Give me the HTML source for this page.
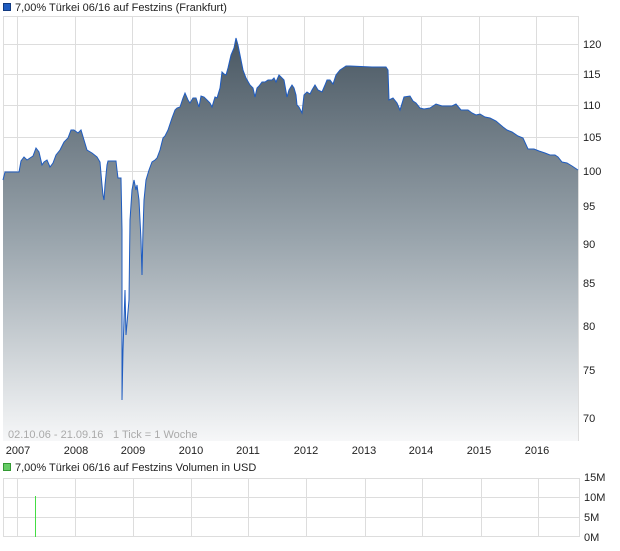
<!DOCTYPE html>
<html><head><meta charset="utf-8"><style>
body{margin:0;background:#fff;width:620px;height:546px;overflow:hidden;font-family:"Liberation Sans",sans-serif;}
</style></head><body>
<svg width="620" height="546" xmlns="http://www.w3.org/2000/svg" font-family="Liberation Sans, sans-serif" font-size="11">
<defs>
<linearGradient id="g" gradientUnits="userSpaceOnUse" x1="0" y1="40" x2="0" y2="441">
<stop offset="0" stop-color="#4a5863"/>
<stop offset="0.5" stop-color="#9aa5ad"/>
<stop offset="1" stop-color="#f6f7f8"/>
</linearGradient>
</defs>
<rect x="3.5" y="3.5" width="7" height="7" fill="#1f5cc0" stroke="#123a80"/>
<text x="15" y="11" fill="#222">7,00% Türkei 06/16 auf Festzins (Frankfurt)</text>
<rect x="3.5" y="16.5" width="575" height="424" fill="#fff" stroke="#ddd"/>
<g stroke="#ddd" stroke-width="1">
<line x1="3" y1="44.5" x2="578" y2="44.5"/><line x1="3" y1="74.5" x2="578" y2="74.5"/>
<line x1="3" y1="105.5" x2="578" y2="105.5"/><line x1="3" y1="137.5" x2="578" y2="137.5"/>
<line x1="3" y1="171.5" x2="578" y2="171.5"/>
<line x1="17.5" y1="16" x2="17.5" y2="441"/><line x1="75.5" y1="16" x2="75.5" y2="441"/>
<line x1="132.5" y1="16" x2="132.5" y2="441"/><line x1="190.5" y1="16" x2="190.5" y2="441"/>
<line x1="247.5" y1="16" x2="247.5" y2="441"/><line x1="304.5" y1="16" x2="304.5" y2="441"/>
<line x1="363.5" y1="16" x2="363.5" y2="441"/><line x1="421.5" y1="16" x2="421.5" y2="441"/>
<line x1="479.5" y1="16" x2="479.5" y2="441"/><line x1="536.5" y1="16" x2="536.5" y2="441"/>
</g>
<path id="p" d="M3,180 L5,172 L19,172 L21,161 L24,157 L27,160 L30,158 L33,156 L36,148 L39,152 L42,165 L44,162 L47,160 L50,167 L53,163 L56,155 L60,150 L64,142 L68,138 L71,130 L74,130 L78,133 L81,130 L84,140 L87,150 L92,153 L97,157 L100,162 L102,185 L103,195 L104,200 L105,185 L107,165 L108,161 L116,161 L117,170 L118,178 L121,178 L122,230 L122,400 L123,350 L125,290 L126,335 L129,300 L130,220 L132,190 L134,180 L136,190 L137,185 L139,200 L141,240 L142,275 L143,230 L144,200 L146,180 L149,170 L152,162 L155,160 L157,158 L160,150 L163,138 L165,136 L168,130 L172,118 L175,110 L177,108 L180,107 L183,98 L185,93 L188,100 L190,103 L193,98 L196,98 L199,107 L201,96 L204,97 L207,100 L210,103 L212,107 L215,97 L217,98 L220,88 L222,72 L224,74 L226,75 L228,68 L231,55 L234,48 L236,38 L238,45 L240,55 L243,70 L246,78 L250,85 L253,88 L255,97 L257,88 L259,86 L262,82 L265,82 L268,80 L272,80 L274,78 L276,82 L279,75 L282,78 L284,80 L287,97 L289,90 L292,85 L294,88 L296,95 L297,105 L299,107 L302,113 L304,95 L307,92 L310,94 L312,90 L315,85 L318,90 L322,92 L325,85 L327,80 L330,80 L333,84 L336,75 L340,70 L343,68 L346,66 L350,66 L372,67 L386,67 L388,70 L389,100 L393,98 L397,103 L400,110 L404,97 L410,96 L413,101 L416,103 L420,108 L424,109 L430,108 L436,104 L442,106 L452,106 L456,104 L461,110 L468,110 L472,113 L476,115 L480,114 L485,117 L490,118 L496,121 L503,127 L507,130 L512,132 L518,136 L523,138 L528,149 L534,149 L539,151 L545,153 L550,155 L555,155 L558,157 L562,162 L567,163 L572,166 L578,170" fill="none"/>
<path d="M3,180 L5,172 L19,172 L21,161 L24,157 L27,160 L30,158 L33,156 L36,148 L39,152 L42,165 L44,162 L47,160 L50,167 L53,163 L56,155 L60,150 L64,142 L68,138 L71,130 L74,130 L78,133 L81,130 L84,140 L87,150 L92,153 L97,157 L100,162 L102,185 L103,195 L104,200 L105,185 L107,165 L108,161 L116,161 L117,170 L118,178 L121,178 L122,230 L122,400 L123,350 L125,290 L126,335 L129,300 L130,220 L132,190 L134,180 L136,190 L137,185 L139,200 L141,240 L142,275 L143,230 L144,200 L146,180 L149,170 L152,162 L155,160 L157,158 L160,150 L163,138 L165,136 L168,130 L172,118 L175,110 L177,108 L180,107 L183,98 L185,93 L188,100 L190,103 L193,98 L196,98 L199,107 L201,96 L204,97 L207,100 L210,103 L212,107 L215,97 L217,98 L220,88 L222,72 L224,74 L226,75 L228,68 L231,55 L234,48 L236,38 L238,45 L240,55 L243,70 L246,78 L250,85 L253,88 L255,97 L257,88 L259,86 L262,82 L265,82 L268,80 L272,80 L274,78 L276,82 L279,75 L282,78 L284,80 L287,97 L289,90 L292,85 L294,88 L296,95 L297,105 L299,107 L302,113 L304,95 L307,92 L310,94 L312,90 L315,85 L318,90 L322,92 L325,85 L327,80 L330,80 L333,84 L336,75 L340,70 L343,68 L346,66 L350,66 L372,67 L386,67 L388,70 L389,100 L393,98 L397,103 L400,110 L404,97 L410,96 L413,101 L416,103 L420,108 L424,109 L430,108 L436,104 L442,106 L452,106 L456,104 L461,110 L468,110 L472,113 L476,115 L480,114 L485,117 L490,118 L496,121 L503,127 L507,130 L512,132 L518,136 L523,138 L528,149 L534,149 L539,151 L545,153 L550,155 L555,155 L558,157 L562,162 L567,163 L572,166 L578,170 L578,441 L3,441 Z" fill="url(#g)"/>
<use href="#p" stroke="#1f5cc0" stroke-width="1"/>
<text x="8" y="438" fill="#aaa">02.10.06 - 21.09.16</text>
<text x="113" y="438" fill="#aaa">1 Tick = 1 Woche</text>
<g fill="#222">
<text x="583" y="48">120</text><text x="583" y="78">115</text><text x="583" y="109">110</text>
<text x="583" y="141">105</text><text x="583" y="175">100</text><text x="583" y="210">95</text>
<text x="583" y="248">90</text><text x="583" y="287">85</text><text x="583" y="330">80</text>
<text x="583" y="374">75</text><text x="583" y="422">70</text>
</g>
<g fill="#222" text-anchor="middle">
<text x="18" y="454">2007</text><text x="76" y="454">2008</text><text x="133" y="454">2009</text>
<text x="191" y="454">2010</text><text x="248" y="454">2011</text><text x="306" y="454">2012</text>
<text x="364" y="454">2013</text><text x="421" y="454">2014</text><text x="479" y="454">2015</text>
<text x="537" y="454">2016</text>
</g>
<rect x="3.5" y="463.5" width="7" height="7" fill="#6c6" stroke="#393"/>
<text x="15" y="471" fill="#222">7,00% Türkei 06/16 auf Festzins Volumen in USD</text>
<g stroke="#ddd">
<rect x="3.5" y="478.5" width="576" height="58" fill="#fff"/>
<line x1="3" y1="497.5" x2="580" y2="497.5"/><line x1="3" y1="517.5" x2="580" y2="517.5"/>
<line x1="17.5" y1="478" x2="17.5" y2="537"/><line x1="75.5" y1="478" x2="75.5" y2="537"/>
<line x1="133.5" y1="478" x2="133.5" y2="537"/><line x1="191.5" y1="478" x2="191.5" y2="537"/>
<line x1="248.5" y1="478" x2="248.5" y2="537"/><line x1="306.5" y1="478" x2="306.5" y2="537"/>
<line x1="365.5" y1="478" x2="365.5" y2="537"/><line x1="422.5" y1="478" x2="422.5" y2="537"/>
<line x1="481.5" y1="478" x2="481.5" y2="537"/><line x1="538.5" y1="478" x2="538.5" y2="537"/>
</g>
<rect x="35" y="496" width="1" height="41" fill="#44dd44"/>
<g fill="#222">
<text x="584" y="481">15M</text><text x="584" y="501">10M</text><text x="584" y="521">5M</text><text x="584" y="541">0M</text>
</g>
</svg>
</body></html>
